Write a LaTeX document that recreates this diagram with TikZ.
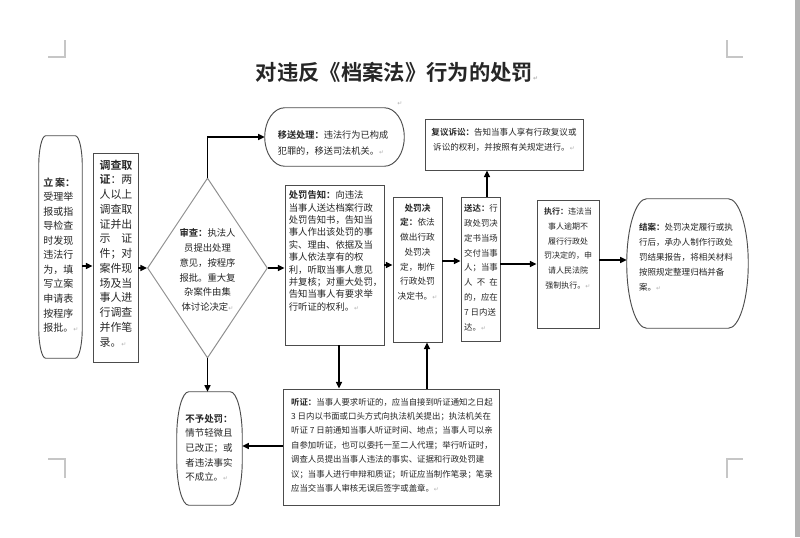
\documentclass[tikz,border=0pt]{standalone}
\usepackage{fontspec}
\setmainfont{Noto Sans CJK SC}[BoldFont={Noto Sans CJK SC Bold}]
\newfontfamily\markfont{DejaVu Sans}
\usetikzlibrary{arrows.meta,shapes.geometric,calc}
\newcommand{\fs}[2]{\fontsize{#1}{#2}\selectfont}
\newcommand{\pmark}{{\color{gray!60}\markfont\fontsize{4.5}{4.5}\selectfont ↵}}
\newcommand{\capsule}[3]{%
  \draw[edge] ($(#1.north west)+(#2,0)$) -- ($(#1.north east)+(-#2,0)$)
    .. controls ($(#1.north east)+(-0.45*#2,0)$) and ($(#1.north east)+(0,0.45*#3)$) .. ($(#1.north east)+(0,#3)$)
    -- ($(#1.south east)+(0,-#3)$)
    .. controls ($(#1.south east)+(0,-0.45*#3)$) and ($(#1.south east)+(-0.45*#2,0)$) .. ($(#1.south east)+(-#2,0)$)
    -- ($(#1.south west)+(#2,0)$)
    .. controls ($(#1.south west)+(0.45*#2,0)$) and ($(#1.south west)+(0,-0.45*#3)$) .. ($(#1.south west)+(0,-#3)$)
    -- ($(#1.north west)+(0,#3)$)
    .. controls ($(#1.north west)+(0,0.45*#3)$) and ($(#1.north west)+(0.45*#2,0)$) .. cycle;}
\begin{document}
\begin{tikzpicture}[x=0.75pt,y=-0.75pt,
    box/.style={draw=black!70,line width=0.7pt,inner sep=0pt},
    soft/.style={inner sep=0pt},
    txt/.style={inner sep=0pt,text=black!85},
    edge/.style={draw=black!70,line width=0.7pt},
    arr/.style={line width=1.1pt,-{Triangle[length=5pt,width=4.5pt]}}]
  \fill[white] (0,0) rectangle (800,537);
  \fill[gray!60] (795,0) rectangle (800,537);
  \foreach \x/\y/\dx/\dy in {65/57/-17/-17,727/57/16/-17,65/459/-17/19,727/459/16/19}
    \draw[gray!45,line width=0.8pt] (\x,\y+\dy) -- (\x,\y) -- (\x+\dx,\y);
  \node[txt,font=\fs{16}{16}\bfseries] (title) at (397,72) {对违反《档案法》行为的处罚\pmark};
  \node[txt] (stray) at (400,104) {\pmark};

  \node[soft,minimum width=32.25pt,minimum height=166.5pt] (lian) at (60.5,247) {};
  \capsule{lian}{7}{30}
  \node[txt,align=left,font=\fs{7.5}{10.9}] (lian-t) at (61,255)
    {\textbf{立\,案：}\\受理举\\报或指\\导检查\\时发现\\违法行\\为，填\\写立案\\申请表\\按程序\\报批。\pmark};

  \node[box,minimum width=33.75pt,minimum height=156.75pt] (diaocha) at (115.5,257.5) {};
  \node[txt,align=left,font=\fs{8.2}{11.06}] (diaocha-t) at (116,253.5)
    {\textbf{调查取}\\\textbf{证}：两\\人以上\\调查取\\证并出\\示\hspace{1em}证\\件；对\\案件现\\场及当\\事人进\\行调查\\并作笔\\录。\pmark};

  \node[draw=black!45,line width=0.7pt,diamond,inner sep=0pt,minimum width=90pt,minimum height=135pt] (shencha) at (207.5,268) {};
  \node[txt,align=center,font=\fs{7}{11.1}] (shencha-t) at (207.5,270)
    {\textbf{审查：}执法人\\员提出处理\\意见，按程序\\报批。重大复\\杂案件由集\\体讨论决定\pmark};

  \node[soft,minimum width=104.25pt,minimum height=43.5pt] (yisong) at (334.5,137) {};
  \capsule{yisong}{20}{29}
  \node[txt,align=left,font=\fs{6.9}{12.5}] (yisong-t) at (333,143)
    {\textbf{移送处理：}违法行为已构成\\犯罪的，移送司法机关。\pmark};

  \node[box,minimum width=74.25pt,minimum height=120pt] (gaozhi) at (334.5,265) {};
  \node[txt,align=left,font=\fs{7}{9.3}] (gaozhi-t) at (335.5,251)
    {\textbf{处罚告知：}向违法\\当事人送达档案行政\\处罚告知书，告知当\\事人作出该处罚的事\\实、理由、依据及当\\事人依法享有的权\\利，听取当事人意见\\并复核；对重大处罚，\\告知当事人有要求举\\行听证的权利。\pmark};

  \node[box,minimum width=36.75pt,minimum height=108.75pt] (jueding) at (417.5,269.5) {};
  \node[txt,align=center,font=\fs{6.5}{11}] (jueding-t) at (417.5,252)
    {\textbf{处罚决}\\\textbf{定：}依法\\做出行政\\处罚决\\定，制作\\行政处罚\\决定书。\pmark};

  \node[box,minimum width=29.25pt,minimum height=108pt] (songda) at (480.5,269) {};
  \node[txt,align=left,font=\fs{6.3}{11.1}] (songda-t) at (481,267.5)
    {\textbf{送达：}行\\政处罚决\\定书当场\\交付当事\\人；当事\\人\enspace 不\enspace 在\\的，应在\\7 日内送\\达。\pmark};

  \node[box,minimum width=118.5pt,minimum height=38.25pt] (fuyi) at (504,144.5) {};
  \node[txt,align=center,font=\fs{6.4}{11}] (fuyi-t) at (504,140)
    {\textbf{复议诉讼：}告知当事人享有行政复议或\\诉讼的权利，并按照有关规定进行。\pmark};

  \node[box,minimum width=46.5pt,minimum height=96pt] (zhixing) at (568,264) {};
  \node[txt,align=center,font=\fs{6}{11}] (zhixing-t) at (568,248.5)
    {\textbf{执行：}违法当\\事人逾期不\\履行行政处\\罚决定的，申\\请人民法院\\强制执行。\pmark};

  \node[soft,minimum width=90.75pt,minimum height=96.75pt] (jiean) at (687.5,263.5) {};
  \capsule{jiean}{20}{64.5}
  \node[txt,align=left,font=\fs{6.4}{11.2}] (jiean-t) at (686,257)
    {\textbf{结案：}处罚决定履行或执\\行后，承办人制作行政处\\罚结果报告，将相关材料\\按照规定整理归档并备\\案。\pmark};

  \node[soft,minimum width=48.75pt,minimum height=84.75pt] (buyu) at (209.5,448.5) {};
  \capsule{buyu}{12}{45}
  \node[txt,align=left,font=\fs{7.1}{11}] (buyu-t) at (209,448)
    {\textbf{不予处罚：}\\情节轻微且\\已改正；或\\者违法事实\\不成立。\pmark};

  \node[box,minimum width=162pt,minimum height=87pt] (tingzheng) at (391,447) {};
  \node[txt,align=left,font=\fs{6.3}{10.8}] (tingzheng-t) at (392,445)
    {\textbf{听证：}当事人要求听证的，应当自接到听证通知之日起\\3 日内以书面或口头方式向执法机关提出；执法机关在\\听证 7 日前通知当事人听证时间、地点；当事人可以亲\\自参加听证，也可以委托一至二人代理；举行听证时，\\调查人员提出当事人违法的事实、证据和行政处罚建\\议；当事人进行申辩和质证；听证应当制作笔录；笔录\\应当交当事人审核无误后签字或盖章。\pmark};

  \coordinate (ya) at (0,266);
  \coordinate (yc) at (0,265);
  \coordinate (yd) at (0,261);
  \coordinate (ye) at (0,264);
  \coordinate (yf) at (0,260);
  \coordinate (yg) at (0,446);
  \coordinate (xa) at (339,0);
  \coordinate (xb) at (427,0);
  \coordinate (xc) at (487,0);

  \draw[arr] (lian.east |- ya) -- (diaocha.west |- ya);
  \draw[arr] (diaocha.east |- shencha.west) -- (shencha.west);
  \draw[arr] (shencha.north) |- (yisong.west);
  \draw[arr] (shencha.south) -- (shencha.south |- buyu.north);
  \draw[arr] (shencha.east) -- (shencha.east -| gaozhi.west);
  \draw[arr] (gaozhi.east |- yc) -- (jueding.west |- yc);
  \draw[arr] (gaozhi.south -| xa) -- (tingzheng.north -| xa);
  \draw[arr] (tingzheng.north -| xb) -- (jueding.south -| xb);
  \draw[arr] (jueding.east |- yd) -- (songda.west |- yd);
  \draw[arr] (songda.north -| xc) -- (fuyi.south -| xc);
  \draw[arr] (songda.east |- ye) -- (zhixing.west |- ye);
  \draw[arr] (zhixing.east |- yf) -- (jiean.west |- yf);
  \draw[arr] (tingzheng.west |- yg) -- (buyu.east |- yg);
\end{tikzpicture}
\end{document}
